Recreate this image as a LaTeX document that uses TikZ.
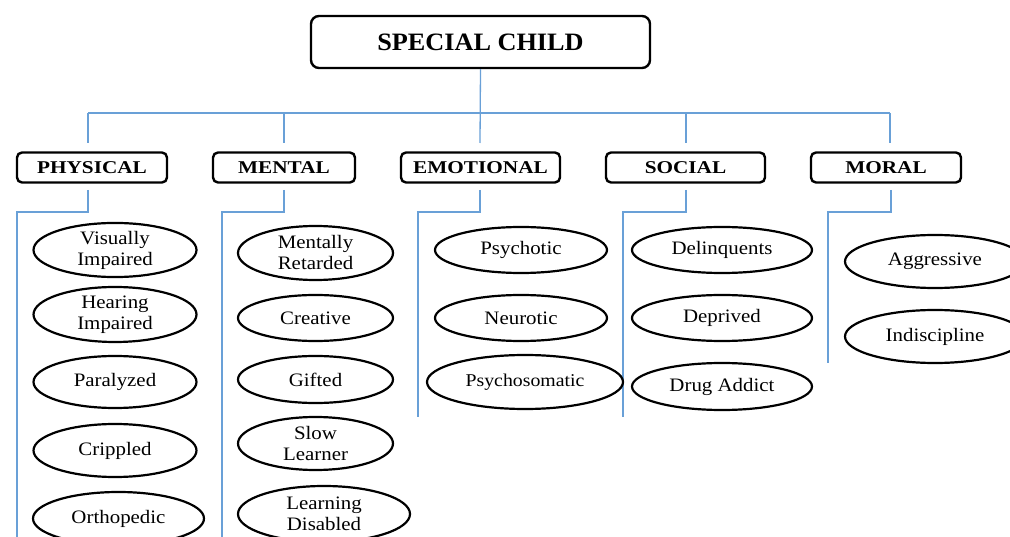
\documentclass[tikz,border=0pt]{standalone}
\usepackage{fontspec}
\setmainfont{Liberation Serif}
\newfontfamily\titlefont[FakeStretch=1.05]{Liberation Serif}
\newfontfamily\catfont[FakeStretch=1.18]{Liberation Serif}
\newfontfamily\leaffont[FakeStretch=1.1]{Liberation Serif}
\usetikzlibrary{shapes.geometric}
\definecolor{linkblue}{RGB}{105,160,215}
\tikzset{
  rootbox/.style={draw=black, line width=2.4pt, rounded corners=8pt, minimum width=339pt, minimum height=52pt, inner sep=0pt,
    font=\titlefont\bfseries\fontsize{25}{30}\selectfont},
  catbox/.style={draw=black, line width=2.4pt, rounded corners=5pt, minimum height=30pt, inner sep=0pt,
    font=\catfont\bfseries\fontsize{18}{22}\selectfont},
  leaf/.style={draw=black, ellipse, line width=2.2pt, inner sep=0pt, align=center,
    font=\leaffont\fontsize{19}{21}\selectfont},
  link/.style={draw=linkblue, line width=1.3pt}
}
\begin{document}
\begin{tikzpicture}[x=1pt, y=-1pt]
\useasboundingbox (0,0) rectangle (1010,537);
% root
\node[rootbox] (root) at (480.5,42) {SPECIAL CHILD};
% categories
\node[catbox, minimum width=150pt] (phys) at (92,167.5) {PHYSICAL};
\node[catbox, minimum width=142pt] (ment) at (284,167.5) {MENTAL};
\node[catbox, minimum width=159pt] (emo) at (480.5,167.5) {EMOTIONAL};
\node[catbox, minimum width=159pt] (soc) at (685.5,167.5) {SOCIAL};
\node[catbox, minimum width=150pt] (mor) at (886,167.5) {MORAL};
% bus coordinates
\coordinate (rootend) at (480,143);
\coordinate (busL) at (88,113);
\coordinate (busR) at (890,113);
\coordinate (dPhys) at (88,143);
\coordinate (dMent) at (284,143);
\coordinate (dSoc) at (686,143);
\coordinate (dMor) at (890,143);
\coordinate (bPhys) at (88,113);
\coordinate (bMent) at (284,113);
\coordinate (bSoc) at (686,113);
\coordinate (bMor) at (890,113);
\draw[link] (root.south) -- (rootend);
\draw[link] (busL) -- (busR);
\draw[link] (bPhys) -- (dPhys);
\draw[link] (bMent) -- (dMent);
\draw[link] (bSoc) -- (dSoc);
\draw[link] (bMor) -- (dMor);
% branch coordinates below categories
\coordinate (sPhys) at (88,190);  \coordinate (ePhys) at (17,537);
\coordinate (sMent) at (284,190); \coordinate (eMent) at (222,537);
\coordinate (sEmo) at (480,190);  \coordinate (eEmo) at (418,417);
\coordinate (sSoc) at (686,190);  \coordinate (eSoc) at (623,417);
\coordinate (sMor) at (891,190);  \coordinate (eMor) at (828,363);
\draw[link] (sPhys) |- (17,212) -- (ePhys);
\draw[link] (sMent) |- (222,212) -- (eMent);
\draw[link] (sEmo) |- (418,212) -- (eEmo);
\draw[link] (sSoc) |- (623,212) -- (eSoc);
\draw[link] (sMor) |- (828,212) -- (eMor);
% physical
\node[leaf, minimum width=163pt, minimum height=46pt] (vis) at (115,250) {Visually\\Impaired};
\node[leaf, minimum width=163pt, minimum height=55pt] (hear) at (115,314.5) {Hearing\\Impaired};
\node[leaf, minimum width=163pt, minimum height=52pt] (para) at (115,382) {Paralyzed};
\node[leaf, minimum width=163pt, minimum height=53pt] (crip) at (115,450.5) {Crippled};
\node[leaf, minimum width=171pt, minimum height=53pt] (orth) at (118.5,518.5) {Orthopedic};
% mental
\node[leaf, minimum width=155pt, minimum height=54pt] (mr) at (315.5,253) {Mentally\\Retarded};
\node[leaf, minimum width=155pt, minimum height=46pt] (crea) at (315.5,318) {Creative};
\node[leaf, minimum width=155pt, minimum height=47pt] (gift) at (315.5,379.5) {Gifted};
\node[leaf, minimum width=155pt, minimum height=53pt] (slow) at (315.5,443.5) {Slow\\Learner};
\node[leaf, minimum width=172pt, minimum height=56pt] (ld) at (324,514) {Learning\\Disabled};
% emotional
\node[leaf, minimum width=172pt, minimum height=46pt] (psy) at (521,250) {Psychotic};
\node[leaf, minimum width=172pt, minimum height=46pt] (neu) at (521,318) {Neurotic};
\node[leaf, minimum width=196pt, minimum height=54pt, font=\leaffont\fontsize{18}{21}\selectfont] (psm) at (525,382) {Psychosomatic};
% social
\node[leaf, minimum width=180pt, minimum height=46pt] (del) at (722,250) {Delinquents};
\node[leaf, minimum width=180pt, minimum height=46pt] (dep) at (722,318) {Deprived};
\node[leaf, minimum width=180pt, minimum height=47pt] (drug) at (722,386.5) {Drug Addict};
% moral
\node[leaf, minimum width=180pt, minimum height=53pt] (agg) at (935,261.5) {Aggressive};
\node[leaf, minimum width=180pt, minimum height=53pt] (ind) at (935,336.5) {Indiscipline};
\end{tikzpicture}
\end{document}
